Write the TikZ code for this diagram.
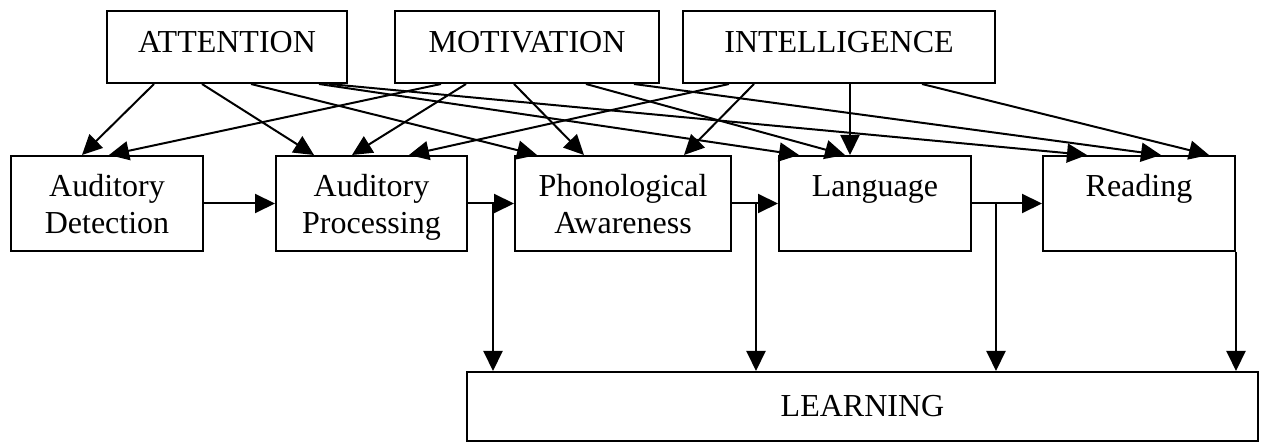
\documentclass[tikz,border=0pt]{standalone}
\usepackage{fontspec}
\setmainfont{Liberation Serif}
\usetikzlibrary{arrows.meta}

% two-line box text with a fixed first-line height and last-line depth
\newcommand\twolines[2]{\rule{0pt}{30pt}#1\\#2\vphantom{g}}

\begin{document}
\begin{tikzpicture}[x=1pt, y=-1pt,
  box/.style={draw, line width=2pt, rectangle, inner sep=0pt, align=center,
    font=\fontsize{32}{36.6}\selectfont},
  topbox/.style={box, minimum height=72pt, text height=22pt, text depth=11pt},
  midbox/.style={box, minimum width=192pt, minimum height=95pt},
  arr/.style={line width=2pt, -{Triangle[length=20pt, width=19pt]}}
]
\useasboundingbox (0,0) rectangle (1261,443);

% influencing factors
\node[topbox, minimum width=240pt] (att) at (227,47) {ATTENTION};
\node[topbox, minimum width=264pt] (mot) at (527,47) {MOTIVATION};
\node[topbox, minimum width=312pt] (int) at (839,47) {INTELLIGENCE};

% processing chain
\node[midbox] (ad) at (107,203.5) {\twolines{Auditory}{Detection}};
\node[midbox, minimum width=191pt] (ap) at (371.5,203.5) {\twolines{Auditory}{Processing}};
\node[midbox, minimum width=216pt] (pa) at (623,203.5) {\twolines{Phonological}{Awareness}};
\node[midbox] (lang) at (875,203.5) {\twolines{Language}{}};
\node[midbox] (read) at (1139,203.5) {\twolines{Reading}{}};

% outcome
\node[box, minimum width=791pt, minimum height=69pt] (learn) at (862.5,406.5) {LEARNING};

% ATTENTION influences
\draw[arr] ([xshift=48pt]att.south west) -- ([xshift=72pt]ad.north west);
\draw[arr] ([xshift=96pt]att.south west) -- ([xshift=39pt]ap.north west);
\draw[arr] ([xshift=145pt]att.south west) -- ([xshift=23pt]pa.north west);
\draw[arr] ([xshift=213pt]att.south west) -- ([xshift=21pt]lang.north west);
\draw[arr] ([xshift=223pt]att.south west) -- ([xshift=45pt]read.north west);

% MOTIVATION influences
\draw[arr] ([xshift=47pt]mot.south west) -- ([xshift=99pt]ad.north west);
\draw[arr] ([xshift=72pt]mot.south west) -- ([xshift=77pt]ap.north west);
\draw[arr] ([xshift=120pt]mot.south west) -- ([xshift=70pt]pa.north west);
\draw[arr] ([xshift=192pt]mot.south west) -- ([xshift=67pt]lang.north west);
\draw[arr] ([xshift=240pt]mot.south west) -- ([xshift=119pt]read.north west);

% INTELLIGENCE influences
\draw[arr] ([xshift=47pt]int.south west) -- ([xshift=134pt]ap.north west);
\draw[arr] ([xshift=72pt]int.south west) -- ([xshift=170pt]pa.north west);
\draw[arr] ([xshift=168pt]int.south west) -- ([xshift=72pt]lang.north west);
\draw[arr] ([xshift=240pt]int.south west) -- ([xshift=167pt]read.north west);

% chain links
\draw[arr] (ad.east) -- (ap.west);
\draw[arr] (ap.east) -- (pa.west);
\draw[arr] (pa.east) -- (lang.west);
\draw[arr] (lang.east) -- (read.west);

% branches down to LEARNING
\coordinate (j1) at ([xshift=25pt]ap.east);
\coordinate (j2) at ([xshift=24pt]pa.east);
\coordinate (j3) at ([xshift=24pt]lang.east);
\draw[arr] (j1) -- (j1 |- learn.north);
\draw[arr] (j2) -- (j2 |- learn.north);
\draw[arr] (j3) -- (j3 |- learn.north);
\draw[arr] (read.south east) -- (read.south east |- learn.north);
\end{tikzpicture}
\end{document}
